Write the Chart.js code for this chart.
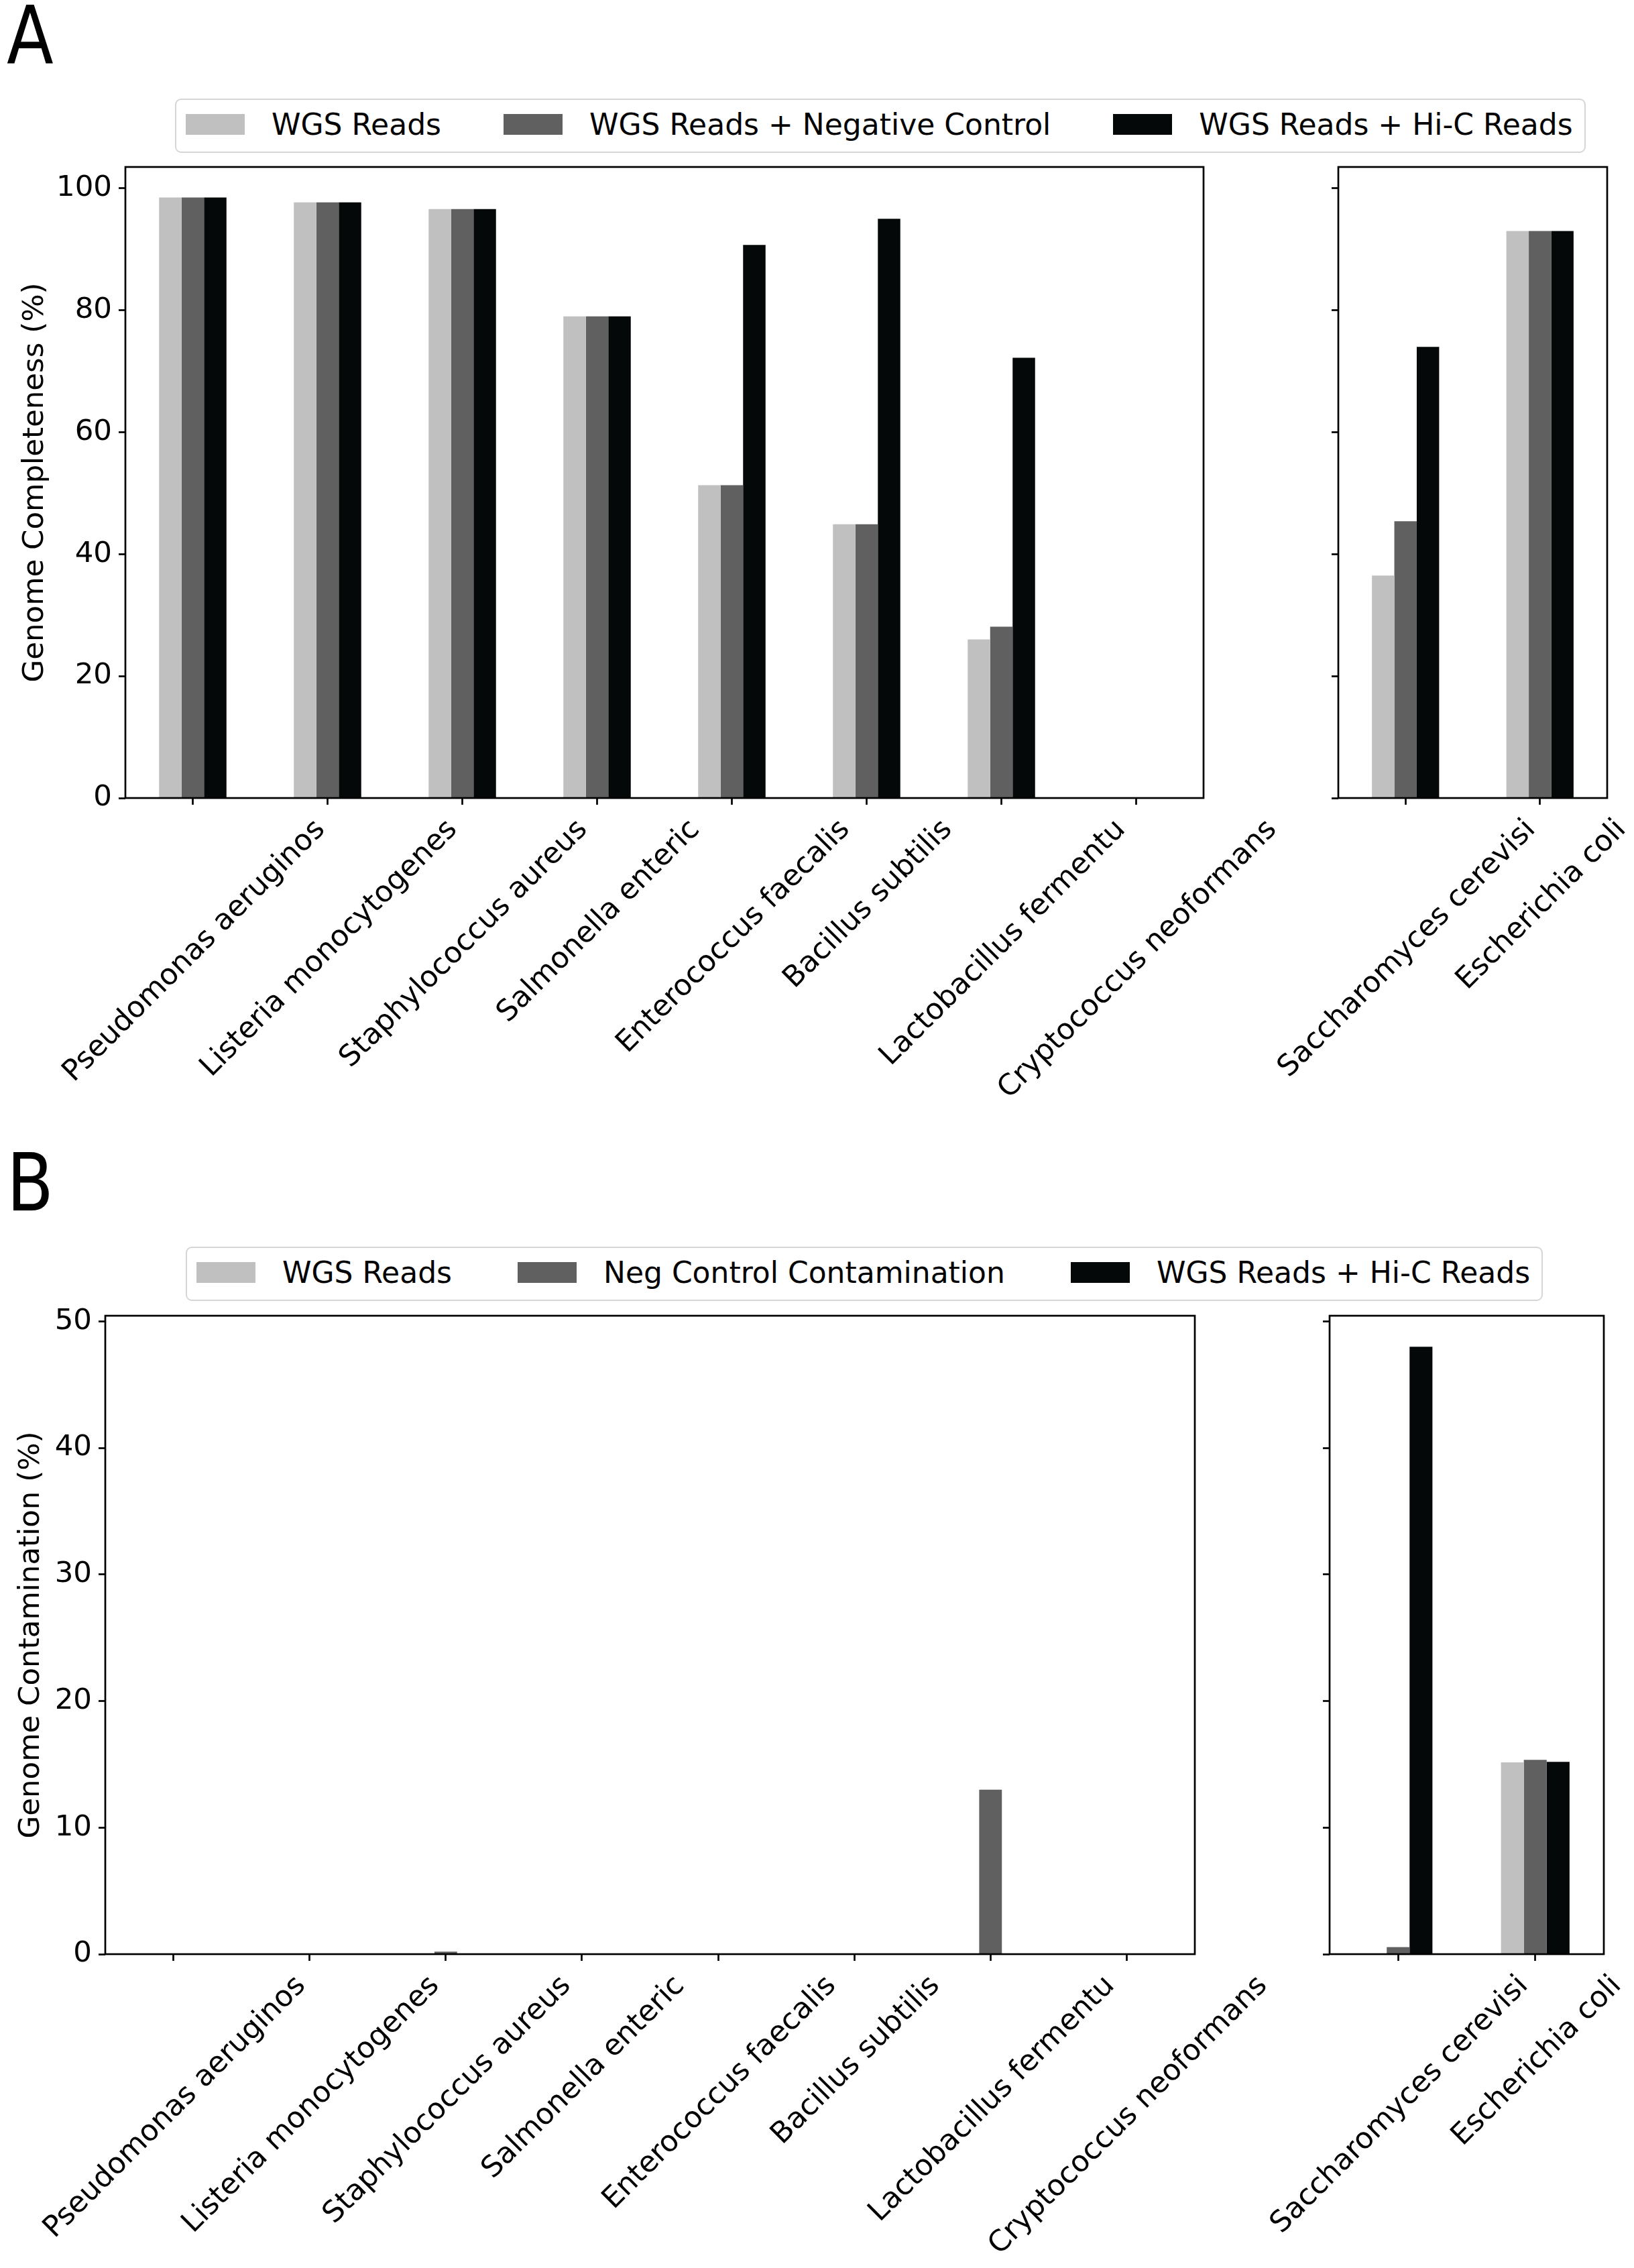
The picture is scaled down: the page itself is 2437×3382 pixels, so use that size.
<!DOCTYPE html>
<html>
<head>
<meta charset="utf-8">
<title>Genome completeness and contamination</title>
<script src="https://cdn.jsdelivr.net/npm/chart.js@4.4.1/dist/chart.umd.min.js"></script>
<style>
    html, body { margin: 0; padding: 0; background: #fff; }
    #page {
        position: relative;
        width: 2437px;
        height: 3382px;
        overflow: hidden;
        font-family: 'DejaVu Sans', sans-serif;
    }
    #page canvas { position: absolute; left: 0; }
    .legend {
        position: absolute;
        box-sizing: border-box;
        height: 81px;
        border: 2.5px solid #d6d6d6;
        border-radius: 9px;
        background: #fff;
        display: flex;
        align-items: center;
        padding: 0 17px 4px 14px;
        font-size: 44px;
        color: #000;
        white-space: nowrap;
        z-index: 5;
    }
    .legend .item { display: flex; align-items: center; margin-right: 93px; }
    #legendB .item { margin-right: 98px; }
    #legendA .item:last-child, #legendB .item:last-child { margin-right: 0; }
    .legend .sw { width: 88px; height: 31px; margin-right: 40px; }
</style>
</head>
<body>
<div id="page">
    <canvas id="compMain"></canvas>
    <canvas id="compEuk"></canvas>
    <canvas id="contMain"></canvas>
    <canvas id="contEuk"></canvas>
    <div class="legend" id="legendA" style="left:261px; top:147px;"></div>
    <div class="legend" id="legendB" style="left:277px; top:1859px;"></div>
</div>

<script>
// ----------------------------------------------------
// Data
// ----------------------------------------------------
const speciesMain = ['Pseudomonas aeruginos', 'Listeria monocytogenes', 'Staphylococcus aureus',
    'Salmonella enteric', 'Enterococcus faecalis', 'Bacillus subtilis',
    'Lactobacillus fermentu', 'Cryptococcus neoformans'];
const speciesEuk = ['Saccharomyces cerevisi', 'Escherichia coli'];

const seriesNamesA = ['WGS Reads', 'WGS Reads + Negative Control', 'WGS Reads + Hi-C Reads'];
const seriesNamesB = ['WGS Reads', 'Neg Control Contamination', 'WGS Reads + Hi-C Reads'];

// Panel A - completeness (%)
const compWgs = [98.5, 97.7, 96.6, 79.0, 51.3, 44.9, 26.0, 0];
const compNeg = [98.5, 97.7, 96.6, 79.0, 51.3, 44.9, 28.1, 0];
const compHic = [98.5, 97.7, 96.6, 79.0, 90.7, 95.0, 72.2, 0];
const compWgsEuk = [36.5, 93.0];
const compNegEuk = [45.4, 93.0];
const compHicEuk = [74.0, 93.0];

// Panel B - contamination (%)
const contWgs = [0, 0, 0, 0, 0, 0, 0, 0];
const contNeg = [0, 0, 0.2, 0, 0, 0, 13.0, 0];
const contHic = [0, 0, 0, 0, 0, 0, 0, 0];
const contWgsEuk = [0, 15.15];
const contNegEuk = [0.55, 15.35];
const contHicEuk = [48.0, 15.2];

const compTicks = [0, 20, 40, 60, 80, 100];
const contTicks = [0, 10, 20, 30, 40, 50];

const barColors = ['#c0c0c0', '#606060', '#040808'];
const FONT = 'DejaVu Sans';
const FS = 43.5;

// ----------------------------------------------------
// Frame, matplotlib-style rotated x labels, panel letter
// ----------------------------------------------------
const mplDecor = {
    id: 'mplDecor',
    afterDraw(chart, args, opts) {
        const ctx = chart.ctx;
        const { left, top, right, bottom } = chart.chartArea;
        ctx.save();
        ctx.strokeStyle = '#000';
        ctx.lineWidth = 2.7;
        ctx.strokeRect(left, top, right - left, bottom - top);

        // labels centred under their tick (ha='center', rotation=45)
        const xs = chart.scales.x;
        ctx.font = FS + 'px "' + FONT + '"';
        ctx.fillStyle = '#000';
        const h = FS * 1.164;
        xs.ticks.forEach((t, i) => {
            const label = chart.data.labels[i];
            const w = ctx.measureText(label).width;
            const d = (w + h) / Math.SQRT2;
            const cx = xs.getPixelForTick(i);
            const cy = bottom + 20 + d / 2;
            ctx.save();
            ctx.translate(cx, cy);
            ctx.rotate(-Math.PI / 4);
            ctx.textAlign = 'center';
            ctx.textBaseline = 'alphabetic';
            ctx.fillText(label, 0, 0.346 * FS);
            ctx.restore();
        });

        if (opts.panel) {
            ctx.save();
            ctx.font = '120px "' + FONT + '"';
            ctx.textAlign = 'left';
            ctx.textBaseline = 'alphabetic';
            ctx.translate(10, opts.letterY);
            ctx.scale(0.85, 1);
            ctx.fillText(opts.panel, 0, 0);
            ctx.restore();
        }
        ctx.restore();
    }
};

function buildChart(canvasId, p) {
    const canvas = document.getElementById(canvasId);
    canvas.width = 2437;
    canvas.height = p.canvasH;
    canvas.style.top = p.canvasTop + 'px';
    const X_H = 30;
    const yW = p.title ? p.left : 30;
    const tickGrid = {
        drawOnChartArea: false,
        drawTicks: true,
        tickLength: 10,
        tickWidth: 2.7,
        tickColor: '#000'
    };

    return new Chart(canvas, {
        type: 'bar',
        data: {
            labels: p.labels,
            datasets: p.series.map((vals, k) => ({
                label: p.names[k],
                data: vals,
                backgroundColor: barColors[k],
                borderWidth: 0,
                categoryPercentage: 0.5,
                barPercentage: 1.0
            }))
        },
        options: {
            responsive: false,
            animation: false,
            devicePixelRatio: 1,
            layout: {
                padding: {
                    left: p.left - yW,
                    top: p.top - p.canvasTop,
                    right: 2437 - p.right,
                    bottom: p.canvasTop + p.canvasH - p.bottom - X_H
                }
            },
            plugins: {
                legend: { display: false },
                tooltip: { enabled: false },
                mplDecor: { panel: p.panel, letterY: p.letterY }
            },
            scales: {
                x: {
                    offset: true,
                    grid: Object.assign({ offset: false }, tickGrid),
                    border: { display: false },
                    ticks: { display: false },
                    afterFit: s => { s.height = X_H; }
                },
                y: {
                    min: 0,
                    max: p.yMax,
                    afterBuildTicks: s => { s.ticks = p.yTicks.map(v => ({ value: v })); },
                    grid: tickGrid,
                    border: { display: false },
                    ticks: {
                        padding: 10,
                        color: '#000',
                        font: { family: FONT, size: FS },
                        callback: v => (p.title ? String(v) : '')
                    },
                    title: {
                        display: !!p.title,
                        text: p.title || '',
                        color: '#000',
                        font: { family: FONT, size: FS },
                        padding: { top: p.titlePad || 0, bottom: 0 }
                    },
                    afterFit: s => { s.width = yW; }
                }
            }
        },
        plugins: [mplDecor]
    });
}

function buildLegend(id, names) {
    const box = document.getElementById(id);
    names.forEach((name, k) => {
        const item = document.createElement('div');
        item.className = 'item';
        const sw = document.createElement('div');
        sw.className = 'sw';
        sw.style.background = barColors[k];
        const txt = document.createElement('span');
        txt.textContent = name;
        item.appendChild(sw);
        item.appendChild(txt);
        box.appendChild(item);
    });
}

// ----------------------------------------------------
// Panel A - Genome Completeness
// ----------------------------------------------------
buildChart('compMain', {
    labels: speciesMain, series: [compWgs, compNeg, compHic], names: seriesNamesA,
    yMax: 103.5, yTicks: compTicks, title: 'Genome Completeness (%)', titlePad: 27,
    canvasTop: 0, canvasH: 1700, left: 187, right: 1795, top: 249, bottom: 1190,
    panel: 'A', letterY: 94
});
buildChart('compEuk', {
    labels: speciesEuk, series: [compWgsEuk, compNegEuk, compHicEuk], names: seriesNamesA,
    yMax: 103.5, yTicks: compTicks,
    canvasTop: 0, canvasH: 1700, left: 1996, right: 2397, top: 249, bottom: 1190
});

// ----------------------------------------------------
// Panel B - Genome Contamination
// ----------------------------------------------------
buildChart('contMain', {
    labels: speciesMain, series: [contWgs, contNeg, contHic], names: seriesNamesB,
    yMax: 50.45, yTicks: contTicks, title: 'Genome Contamination (%)', titlePad: 21,
    canvasTop: 1700, canvasH: 1682, left: 157, right: 1782, top: 1962, bottom: 2914,
    panel: 'B', letterY: 105
});
buildChart('contEuk', {
    labels: speciesEuk, series: [contWgsEuk, contNegEuk, contHicEuk], names: seriesNamesB,
    yMax: 50.45, yTicks: contTicks,
    canvasTop: 1700, canvasH: 1682, left: 1983, right: 2392, top: 1962, bottom: 2914
});

buildLegend('legendA', seriesNamesA);
buildLegend('legendB', seriesNamesB);
</script>
</body>
</html>
